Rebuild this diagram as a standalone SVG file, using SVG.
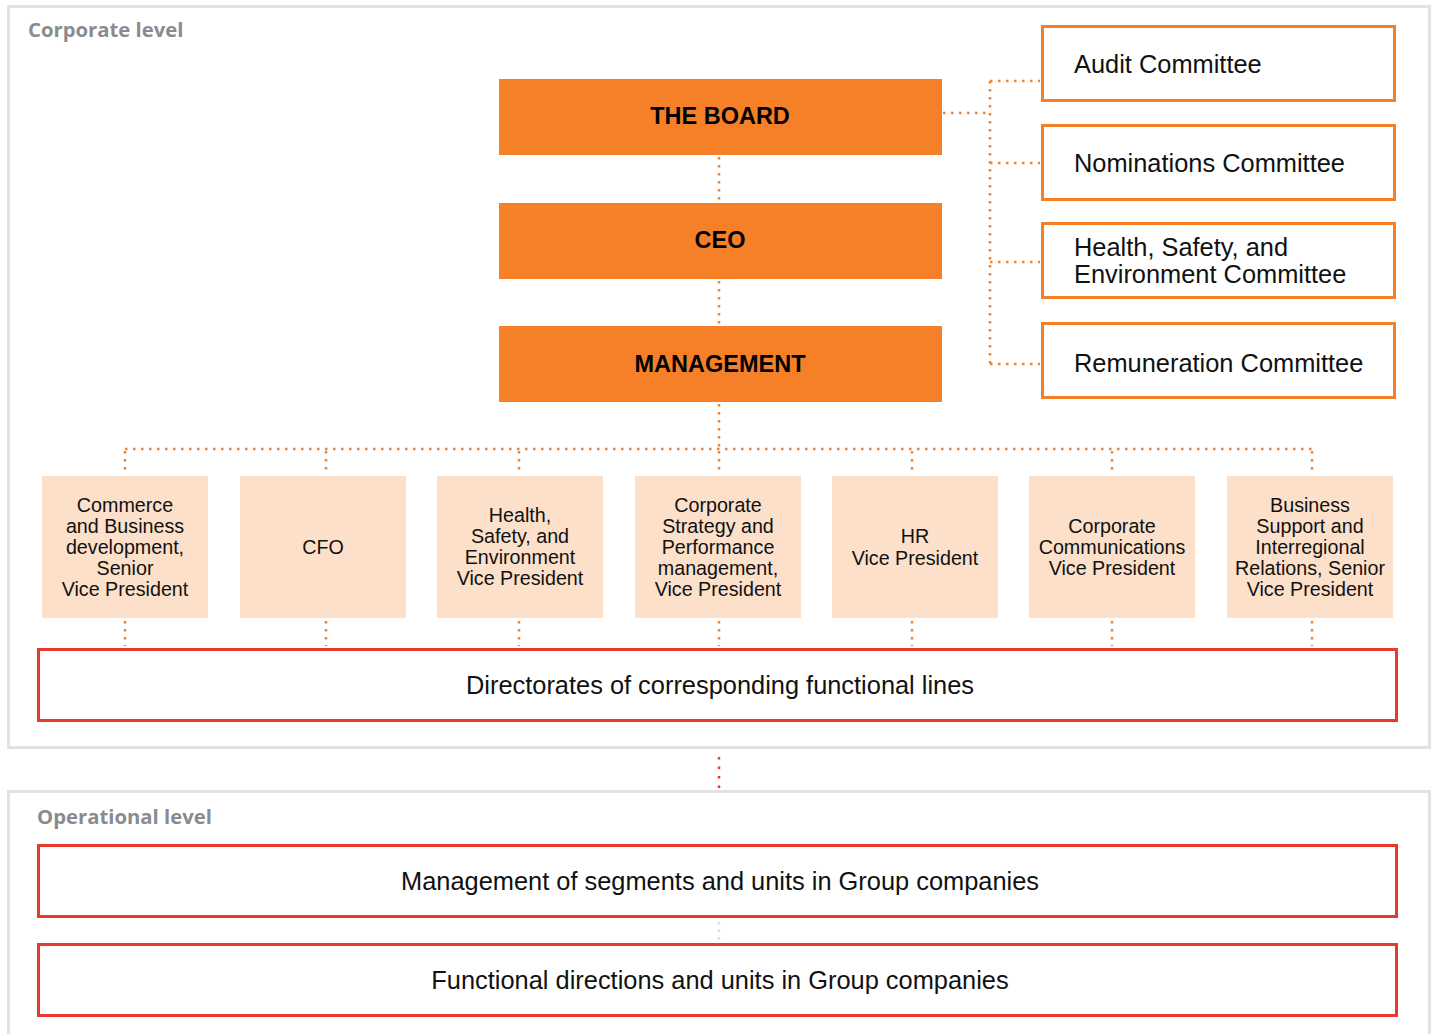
<svg xmlns="http://www.w3.org/2000/svg" width="1433" height="1034" viewBox="0 0 1433 1034">
  <style>
    .panel { fill: #ffffff; stroke: #e2e2e2; stroke-width: 3; }
    .level { font-family: "Open Sans", "Liberation Sans", sans-serif; font-weight: 700; font-size: 20.3px; fill: #8b8b8f; }
    .top { fill: #f58028; }
    .toptxt { font-family: "Liberation Sans", Arial, sans-serif; font-weight: 700; font-size: 23.5px; fill: #000; text-anchor: middle; }
    .comm { fill: #ffffff; stroke: #f58028; stroke-width: 3; }
    .commtxt { font-family: "Liberation Sans", Arial, sans-serif; font-size: 25.4px; fill: #111; }
    .vp { fill: #fce0ca; }
    .vptxt { font-family: "Liberation Sans", Arial, sans-serif; font-size: 19.7px; fill: #111; text-anchor: middle; }
    .red { fill: #ffffff; stroke: #e8392f; stroke-width: 3; }
    .redtxt { font-family: "Liberation Sans", Arial, sans-serif; font-size: 25.4px; fill: #111; text-anchor: middle; }
    .dot { fill: none; stroke: #f58028; stroke-width: 2.5; stroke-dasharray: 2.5 5.5; }
    .dotred { fill: none; stroke: #e8392f; stroke-width: 2.5; stroke-dasharray: 2.5 7; }
    .dotgray { fill: none; stroke: #dcdcdc; stroke-width: 2.5; stroke-dasharray: 2.5 5; }
  </style>

  <!-- level panels -->
  <rect class="panel" x="8.5" y="6.5" width="1421" height="741"/>
  <text class="level" x="28" y="37">Corporate level</text>
  <rect class="panel" x="8.5" y="791.5" width="1421" height="260"/>
  <text class="level" x="37" y="824">Operational level</text>

  <!-- connectors -->
  <g id="connectors">
    <path class="dot" d="M943 113 H990"/>
    <path class="dot" d="M990 81 V364"/>
    <path class="dot" d="M990 81 H1040 M990 163 H1040 M990 262 H1040 M990 364 H1040"/>
    <path class="dot" d="M719 157 V201 M719 281 V324 M719 404 V449"/>
    <path class="dot" d="M125 449 H1312"/>
    <path class="dot" d="M125 451 V475 M326 451 V475 M519 451 V475 M719 451 V475 M912 451 V475 M1112 451 V475 M1312 451 V475"/>
    <path class="dot" d="M125 621 V646 M326 621 V646 M519 621 V646 M719 621 V646 M912 621 V646 M1112 621 V646 M1312 621 V646"/>
    <path class="dotred" d="M719 757 V788"/>
    <path class="dotgray" d="M719 922 V940"/>
  </g>

  <!-- governing bodies -->
  <g id="board"><rect class="top" x="499" y="79" width="443" height="76"/><text class="toptxt" x="720" y="124">THE BOARD</text></g>
  <g id="ceo"><rect class="top" x="499" y="203" width="443" height="76"/><text class="toptxt" x="720" y="248">CEO</text></g>
  <g id="management"><rect class="top" x="499" y="326" width="443" height="76"/><text class="toptxt" x="720" y="372">MANAGEMENT</text></g>

  <!-- board committees -->
  <g id="audit"><rect class="comm" x="1042.5" y="26.5" width="352" height="74"/><text class="commtxt" x="1074" y="73">Audit Committee</text></g>
  <g id="nominations"><rect class="comm" x="1042.5" y="125.5" width="352" height="74"/><text class="commtxt" x="1074" y="172">Nominations Committee</text></g>
  <g id="hse-committee"><rect class="comm" x="1042.5" y="223.5" width="352" height="74"/><text class="commtxt" x="1074" y="256">Health, Safety, and</text><text class="commtxt" x="1074" y="283">Environment Committee</text></g>
  <g id="remuneration"><rect class="comm" x="1042.5" y="323.5" width="352" height="74"/><text class="commtxt" x="1074" y="372">Remuneration Committee</text></g>

  <!-- vice presidents -->
  <g id="vp-commerce"><rect class="vp" x="42" y="476" width="166" height="142"/>
    <text class="vptxt" x="125" y="512">Commerce</text><text class="vptxt" x="125" y="533">and Business</text><text class="vptxt" x="125" y="554">development,</text><text class="vptxt" x="125" y="575">Senior</text><text class="vptxt" x="125" y="596">Vice President</text></g>
  <g id="vp-cfo"><rect class="vp" x="240" y="476" width="166" height="142"/>
    <text class="vptxt" x="323" y="554">CFO</text></g>
  <g id="vp-hse"><rect class="vp" x="437" y="476" width="166" height="142"/>
    <text class="vptxt" x="520" y="522">Health,</text><text class="vptxt" x="520" y="543">Safety, and</text><text class="vptxt" x="520" y="564">Environment</text><text class="vptxt" x="520" y="585">Vice President</text></g>
  <g id="vp-strategy"><rect class="vp" x="635" y="476" width="166" height="142"/>
    <text class="vptxt" x="718" y="512">Corporate</text><text class="vptxt" x="718" y="533">Strategy and</text><text class="vptxt" x="718" y="554">Performance</text><text class="vptxt" x="718" y="575">management,</text><text class="vptxt" x="718" y="596">Vice President</text></g>
  <g id="vp-hr"><rect class="vp" x="832" y="476" width="166" height="142"/>
    <text class="vptxt" x="915" y="543">HR</text><text class="vptxt" x="915" y="565">Vice President</text></g>
  <g id="vp-communications"><rect class="vp" x="1029" y="476" width="166" height="142"/>
    <text class="vptxt" x="1112" y="533">Corporate</text><text class="vptxt" x="1112" y="554">Communications</text><text class="vptxt" x="1112" y="575">Vice President</text></g>
  <g id="vp-business-support"><rect class="vp" x="1227" y="476" width="166" height="142"/>
    <text class="vptxt" x="1310" y="512">Business</text><text class="vptxt" x="1310" y="533">Support and</text><text class="vptxt" x="1310" y="554">Interregional</text><text class="vptxt" x="1310" y="575">Relations, Senior</text><text class="vptxt" x="1310" y="596">Vice President</text></g>

  <!-- functional and operational layers -->
  <g id="directorates"><rect class="red" x="38.5" y="649.5" width="1358" height="71"/><text class="redtxt" x="720" y="694">Directorates of corresponding functional lines</text></g>
  <g id="segments"><rect class="red" x="38.5" y="845.5" width="1358" height="71"/><text class="redtxt" x="720" y="890">Management of segments and units in Group companies</text></g>
  <g id="functional-units"><rect class="red" x="38.5" y="944.5" width="1358" height="71"/><text class="redtxt" x="720" y="989">Functional directions and units in Group companies</text></g>
</svg>
